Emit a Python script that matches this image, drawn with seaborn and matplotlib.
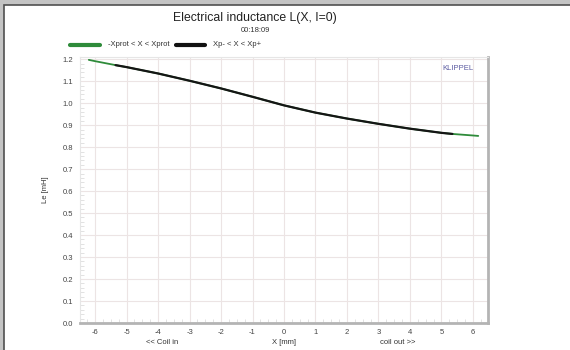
import matplotlib
matplotlib.use("Agg")
import matplotlib.pyplot as plt
import seaborn as sns
import pandas as pd
from matplotlib.patches import Rectangle
from matplotlib.ticker import MultipleLocator

# Data
x_full = [-6.2, -6.0, -5.35, -5.0, -4.0, -3.0, -2.0, -1.0, 0.0, 1.0, 2.0, 3.0, 4.0, 5.0, 5.35, 6.0, 6.17]
le_full = [1.197, 1.191, 1.173, 1.164, 1.135, 1.102, 1.067, 1.029, 0.990, 0.957, 0.930, 0.906, 0.884, 0.865, 0.860, 0.853, 0.851]
x_inner = [-5.35, -5.0, -4.0, -3.0, -2.0, -1.0, 0.0, 1.0, 2.0, 3.0, 4.0, 5.0, 5.35]
le_inner = [1.173, 1.164, 1.135, 1.102, 1.067, 1.029, 0.990, 0.957, 0.930, 0.906, 0.884, 0.865, 0.860]
x_ticks = [-6, -5, -4, -3, -2, -1, 0, 1, 2, 3, 4, 5, 6]
y_ticks = [0.0, 0.1, 0.2, 0.3, 0.4, 0.5, 0.6, 0.7, 0.8, 0.9, 1.0, 1.1, 1.2]
series_labels = ["-Xprot < X < Xprot", "Xp- < X < Xp+"]

sns.set_style("white")
plt.rcParams['font.family'] = ['Liberation Sans', 'DejaVu Sans']

fig = plt.figure(figsize=(5.7, 3.5), dpi=100, facecolor="#c4c4c4")
fig.patches.append(Rectangle((4/570, -0.01), 1, 1.01 - 5/350, transform=fig.transFigure,
                             facecolor="white", edgecolor="#505050", linewidth=1.2, zorder=-5))

ax = fig.add_axes([80/570, 1 - 323/350, (488-80)/570, (323-57)/350])
ax.set_zorder(2)
ax.set_facecolor("white")

df_full = pd.DataFrame({"x": x_full, "Le": le_full})
df_inner = pd.DataFrame({"x": x_inner, "Le": le_inner})
sns.lineplot(data=df_full, x="x", y="Le", ax=ax, color="#2e8b3a", linewidth=1.3, zorder=3)
sns.lineplot(data=df_inner, x="x", y="Le", ax=ax, color="#151515", linewidth=1.6, zorder=4)

ax.set_xlim(-6.48, 6.48)
ax.set_ylim(0, 1.21)
ax.set_xticks(x_ticks)
ax.set_xticklabels([str(v) for v in x_ticks])
ax.set_yticks(y_ticks)
ax.set_yticklabels([f"{v:.1f}" for v in y_ticks])
ax.yaxis.set_minor_locator(MultipleLocator(0.02))
ax.xaxis.set_minor_locator(MultipleLocator(0.25))
ax.tick_params(axis="both", which="major", labelsize=5.5, labelcolor="#444444", length=0, pad=5)
ax.tick_params(axis="x", which="major", pad=4)
ax.tick_params(axis="y", which="minor", length=3, color="#dddddd", direction="in", left=True)
ax.tick_params(axis="x", which="minor", length=3, color="#dddddd", direction="in", bottom=True)
ax.grid(True, which="major", color="#ece4e4", linewidth=0.8)
ax.set_xlabel("")
ax.set_ylabel("Le [mH]", fontsize=5.5, color="#333333", labelpad=10)

for s in ["top", "left"]:
    ax.spines[s].set_color("#e6e6e6")
    ax.spines[s].set_linewidth(0.8)
for s in ["bottom", "right"]:
    ax.spines[s].set_color("#b4b4b4")
    ax.spines[s].set_linewidth(2.0)

ax.text(0.965, 0.955, "KLIPPEL", transform=ax.transAxes, ha="right", va="center",
        fontsize=5.5, color="#5a5aa0")

fig.text(255/570, 1 - 18/350, "Electrical inductance L(X, I=0)", ha="center", va="center",
         fontsize=8.8, color="#222222")
fig.text(255/570, 1 - 31/350, "00:18:09", ha="center", va="center", fontsize=5.5, color="#333333")

# legend
fig.lines.append(plt.Line2D([70/570, 100/570], [1 - 45/350] * 2, transform=fig.transFigure,
                            color="#2e8b3a", linewidth=3))
fig.text(108/570, 1 - 45/350, series_labels[0], ha="left", va="center", fontsize=5.5, color="#333333")
fig.lines.append(plt.Line2D([176/570, 205/570], [1 - 45/350] * 2, transform=fig.transFigure,
                            color="#111111", linewidth=3))
fig.text(213/570, 1 - 45/350, series_labels[1], ha="left", va="center", fontsize=5.5, color="#333333")

fig.text(162/570, 1 - 343/350, "<< Coil in", ha="center", va="center", fontsize=5.5, color="#333333")
fig.text(284/570, 1 - 343/350, "X [mm]", ha="center", va="center", fontsize=5.5, color="#333333")
fig.text(398/570, 1 - 343/350, "coil out >>", ha="center", va="center", fontsize=5.5, color="#333333")

fig.savefig("out.png", dpi=100, facecolor=fig.get_facecolor())
